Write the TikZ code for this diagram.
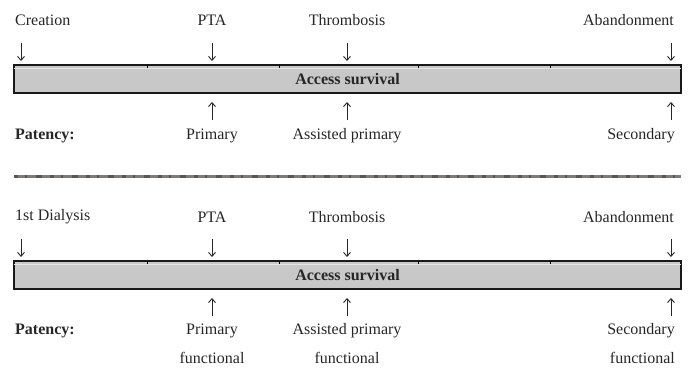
\documentclass[tikz,border=0pt]{standalone}
\usepackage{fontspec}
\setmainfont{Liberation Serif}
\usetikzlibrary{arrows.meta}
\definecolor{barfill}{HTML}{C8C8C8}
\definecolor{barhi}{HTML}{E4E4E4}
\definecolor{sepbase}{HTML}{7E7B78}
\definecolor{sepdark}{HTML}{5A5753}
\begin{document}
\begin{tikzpicture}[x=1pt,y=-1pt,
  every node/.style={font=\fontsize{16}{19}\selectfont, inner sep=0pt, text=black!85},
  lw/.style={anchor=west},
  le/.style={anchor=east},
  barbox/.style={draw=black!90, line width=2pt, fill=barfill, minimum width=667pt, minimum height=28pt, font=\fontsize{16}{19}\selectfont\bfseries},
  hiline/.style={barhi, line width=1pt},
  tickmark/.style={black, line width=1pt},
  evarrow/.style={black!85, line width=0.9pt, -{Straight Barb[length=4pt,width=7pt]}},
  sepline/.style={sepbase, line width=2.5pt}]
\useasboundingbox (0,0) rectangle (691,371);

% ---------- top section ----------
\node[lw] (c1) at (15,20) {Creation};
\node (p1) at (212,20) {PTA};
\node (t1) at (347,20) {Thrombosis};
\node[le] (a1) at (674,20) {Abandonment};
\node[barbox] (bar1) at (347.5,79) {Access survival};
\draw[hiline] ([xshift=1pt,yshift=-5pt]bar1.north west) -- ([xshift=-1pt,yshift=-5pt]bar1.north east);
\foreach \x in {147,279,418,550}{\draw[tickmark] (\x,65) -- (\x,68);}
\foreach \x/\n in {21/c,212/p,347/t,671/a}{
  \coordinate (d\n1s) at (\x,43);
  \coordinate (d\n1e) at (\x,61);
  \draw[evarrow] (d\n1s) -- (d\n1e);}
\foreach \x/\n in {212/p,347/t,671/a}{
  \coordinate (u\n1s) at (\x,120);
  \coordinate (u\n1e) at (\x,102);
  \draw[evarrow] (u\n1s) -- (u\n1e);}
\node[lw,font=\fontsize{16}{19}\selectfont\bfseries] (pat1) at (15,136) {Patency:};
\node (pr1) at (212,136) {Primary};
\node (as1) at (347,136) {Assisted primary};
\node[le] (se1) at (675,136) {Secondary};

% ---------- separator ----------
\coordinate (sL) at (14,176.5);
\coordinate (sR) at (681,176.5);
\draw[sepline] (sL) -- (sR);
\draw[sepdark, line width=2.5pt, dash pattern=on 4pt off 7pt on 2pt off 9pt on 6pt off 8pt] (sL) -- (sR);

% ---------- bottom section ----------
\node[lw] (c2) at (15,217) {1st Dialysis};
\node (p2) at (212,217) {PTA};
\node (t2) at (347,217) {Thrombosis};
\node[le] (a2) at (674,217) {Abandonment};
\node[barbox] (bar2) at (347.5,275) {Access survival};
\draw[hiline] ([xshift=1pt,yshift=-5pt]bar2.north west) -- ([xshift=-1pt,yshift=-5pt]bar2.north east);
\foreach \x in {147,279,418,550}{\draw[tickmark] (\x,261) -- (\x,264);}
\foreach \x/\n in {21/c,212/p,347/t,671/a}{
  \coordinate (d\n2s) at (\x,239);
  \coordinate (d\n2e) at (\x,257);
  \draw[evarrow] (d\n2s) -- (d\n2e);}
\foreach \x/\n in {212/p,347/t,671/a}{
  \coordinate (u\n2s) at (\x,316);
  \coordinate (u\n2e) at (\x,298);
  \draw[evarrow] (u\n2s) -- (u\n2e);}
\node[lw,font=\fontsize{16}{19}\selectfont\bfseries] (pat2) at (15,331) {Patency:};
\node (pr2) at (212,331) {Primary};
\node (as2) at (347,331) {Assisted primary};
\node[le] (se2) at (675,331) {Secondary};
\node (f1) at (212,358) {functional};
\node (f2) at (347,358) {functional};
\node[le] (f3) at (675,358) {functional};
\end{tikzpicture}
\end{document}
